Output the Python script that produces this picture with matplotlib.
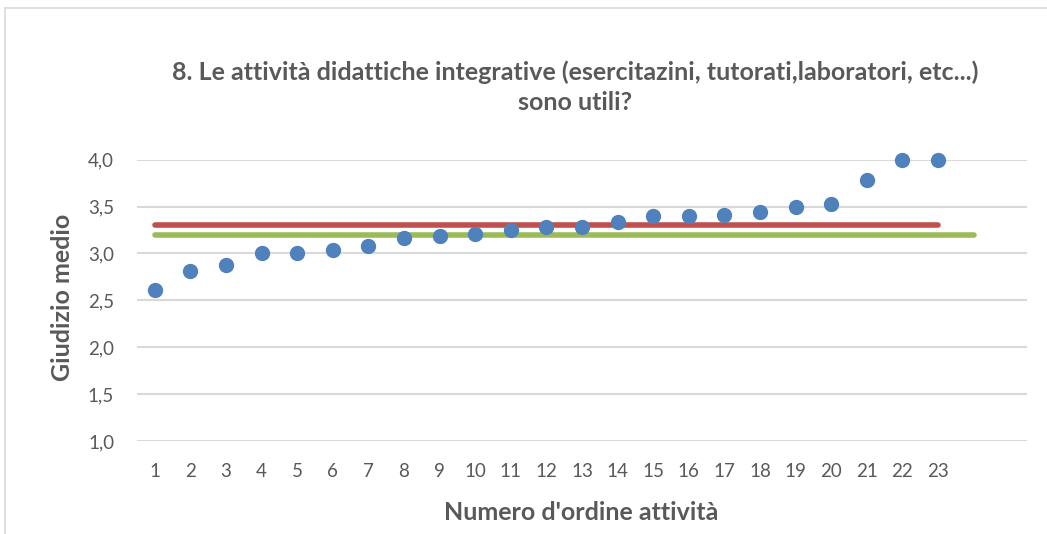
import matplotlib
matplotlib.use("Agg")
import matplotlib.pyplot as plt
from matplotlib.patches import Rectangle

activities = list(range(1, 24))
giudizio = [2.61, 2.81, 2.88, 3.00, 3.00, 3.04, 3.08, 3.17, 3.19, 3.21, 3.25, 3.28,
            3.28, 3.34, 3.40, 3.40, 3.41, 3.44, 3.50, 3.53, 3.78, 4.00, 4.00]
red_x = [1, 23]
red_y = [3.30, 3.30]
green_x = [1, 24]
green_y = [3.20, 3.20]
xtick_labels = [str(a) for a in activities]
yticks = [1.0, 1.5, 2.0, 2.5, 3.0, 3.5, 4.0]
ytick_labels = ["1,0", "1,5", "2,0", "2,5", "3,0", "3,5", "4,0"]

plt.rcParams['font.family'] = ['Lato', 'DejaVu Sans']

W, H = 1047, 534
fig = plt.figure(figsize=(W / 100, H / 100), dpi=100)

# outer frame
fig.patches.append(Rectangle((5 / W, -0.1), 1.2, 1 - 8 / H + 0.1, transform=fig.transFigure,
                             fill=False, edgecolor='#D9D9D9', linewidth=1.2, zorder=0))

ax = fig.add_axes([137 / W, 1 - 441 / H, (1027 - 137) / W, (441 - 159.7) / H])
ax.set_xlim(0.5, 25.5)
ax.set_ylim(1.0, 4.0)
for s in ax.spines.values():
    s.set_visible(False)
ax.set_yticks(yticks)
ax.set_yticklabels(ytick_labels)
ax.set_xticks(activities)
ax.set_xticklabels(xtick_labels)
ax.tick_params(axis='both', length=0, labelsize=13.5, colors='#595959')
ax.tick_params(axis='y', pad=16.5)
ax.tick_params(axis='x', pad=16)
ax.yaxis.grid(True, color='#D9D9D9', linewidth=1.5)
ax.set_axisbelow(True)

ax.plot(red_x, red_y, color='#C0504D', linewidth=4, solid_capstyle='round', zorder=2)
ax.plot(green_x, green_y, color='#9BBB59', linewidth=4, solid_capstyle='round', zorder=2)
ax.scatter(activities, giudizio, s=100, color='#4F81BD', zorder=3, clip_on=False)

fig.text(575 / W, 1 - 72 / H, "8. Le attività didattiche integrative (esercitazini, tutorati,laboratori, etc...)",
         ha='center', va='center', fontsize=18, fontweight='bold', color='#595959')
fig.text(575 / W, 1 - 102 / H, "sono utili?", ha='center', va='center',
         fontsize=18, fontweight='bold', color='#595959')

fig.text(62 / W, 1 - 297 / H, "Giudizio medio", rotation=90, ha='center', va='center',
         fontsize=18, fontweight='bold', color='#595959')
fig.text(581 / W, 1 - 513 / H, "Numero d'ordine attività", ha='center', va='center',
         fontsize=18, fontweight='bold', color='#595959')

fig.savefig("out.png", dpi=100)
